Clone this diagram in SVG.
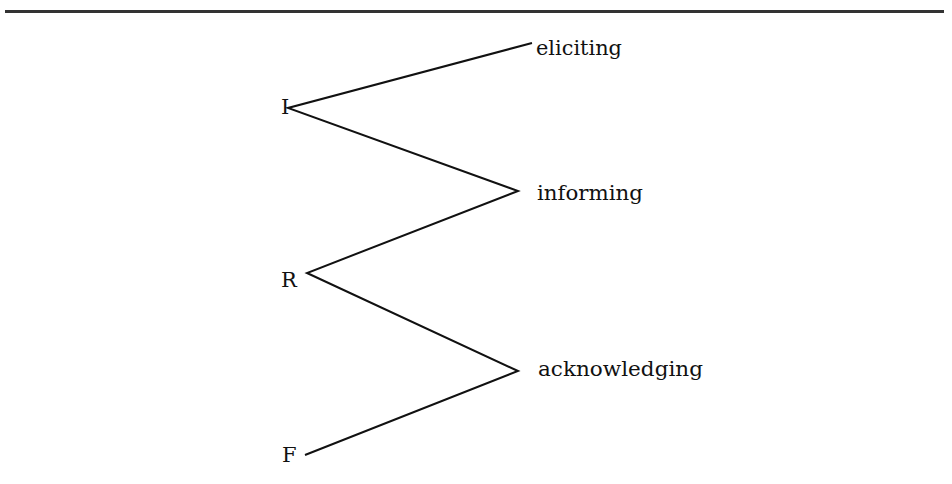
<svg xmlns="http://www.w3.org/2000/svg" width="952" height="484" viewBox="0 0 952 484">
<style>
.lbl{font-family:"DejaVu Serif","Liberation Serif",serif;font-size:21px;fill:#111}
.conn{fill:none;stroke:#111;stroke-width:2;stroke-linejoin:miter}
</style>
<rect width="952" height="484" fill="#fff"/>
<line x1="5" y1="11.5" x2="944" y2="11.5" stroke="#333" stroke-width="3"/>
<g id="connectors">
<polyline class="conn" points="532,43 288,108 518,191 307,273 518,371 305,455"/>
</g>
<g id="node-I"><text class="lbl" x="281" y="114">I</text></g>
<g id="node-R"><text class="lbl" x="281" y="287">R</text></g>
<g id="node-F"><text class="lbl" x="282" y="462">F</text></g>
<g id="node-eliciting"><text class="lbl" x="536" y="55" textLength="86" lengthAdjust="spacingAndGlyphs">eliciting</text></g>
<g id="node-informing"><text class="lbl" x="537" y="200" textLength="106" lengthAdjust="spacingAndGlyphs">informing</text></g>
<g id="node-acknowledging"><text class="lbl" x="538" y="376" textLength="165" lengthAdjust="spacingAndGlyphs">acknowledging</text></g>
</svg>
